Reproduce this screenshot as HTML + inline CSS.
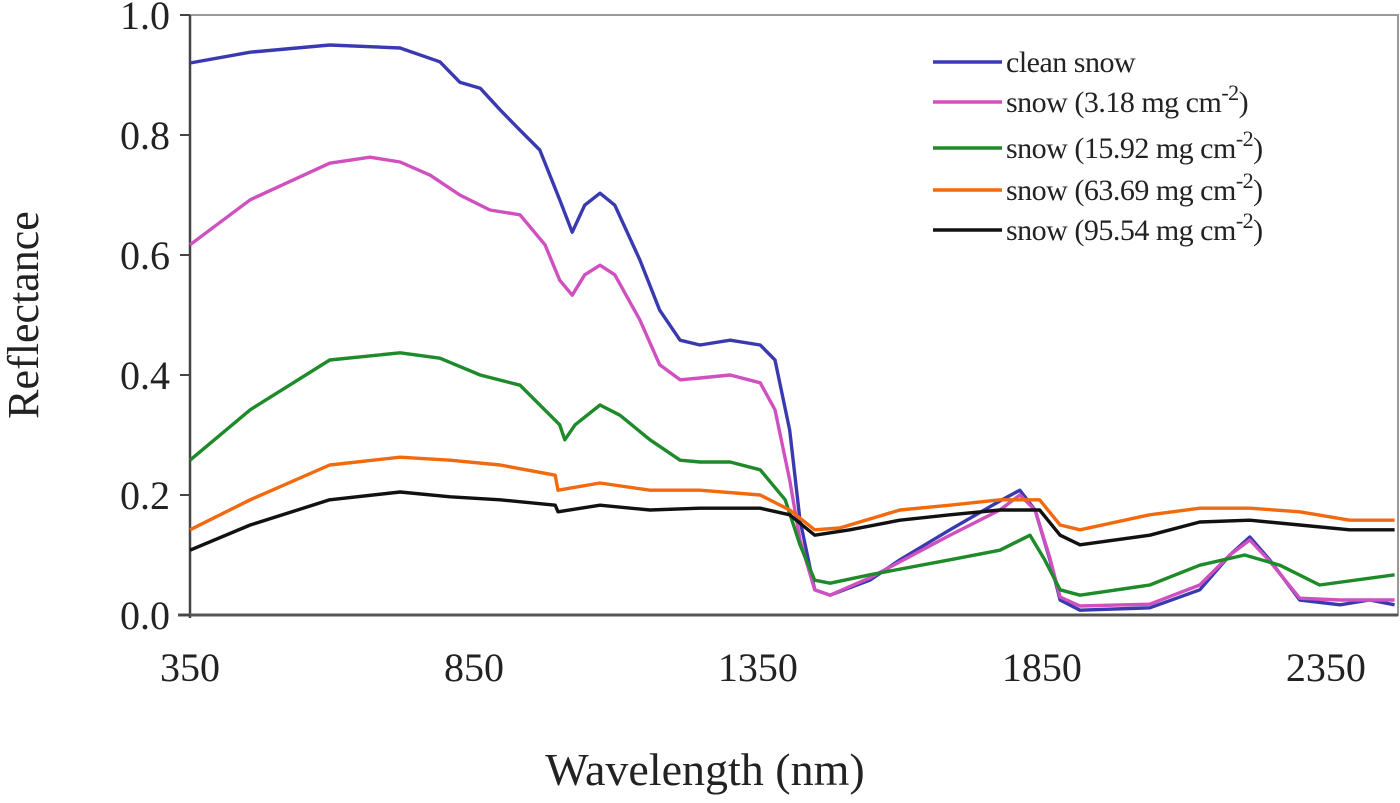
<!DOCTYPE html>
<html><head><meta charset="utf-8"><style>
body{margin:0;background:#fff;}
svg text{font-family:"Liberation Serif",serif;fill:#222;}
</style></head><body>
<svg id="c" width="1400" height="798"></svg>
<script>
const yTicks=[0,0.2,0.4,0.6,0.8,1.0];
const yTickLabels=["0.0","0.2","0.4","0.6","0.8","1.0"];
const xTicks=[350,850,1350,1850,2350];
const seriesNames=["clean snow","snow (3.18 mg cm","snow (15.92 mg cm","snow (63.69 mg cm","snow (95.54 mg cm"];
const seriesColors=["#3a3ab0","#d050c0","#1e8a2a","#f26a10","#111111"];
const blueWl=[350,456,596,720,790,825,861,896,931,966,1001,1023,1045,1072,1098,1142,1177,1213,1248,1301,1354,1380,1406,1424,1450,1477,1547,1600,1688,1776,1811,1838,1864,1882,1917,2040,2128,2181,2216,2251,2304,2375,2427,2471];
const blueR=[.92,.938,.95,.945,.922,.888,.878,.842,.808,.775,.692,.638,.683,.703,.683,.592,.508,.458,.45,.458,.45,.425,.308,.158,.042,.033,.058,.092,.142,.19,.208,.175,.092,.025,.008,.012,.042,.1,.13,.092,.025,.017,.025,.017];
const pinkWl=[350,456,596,667,720,773,825,878,931,975,1001,1023,1045,1072,1098,1142,1177,1213,1248,1301,1354,1380,1406,1424,1450,1477,1547,1688,1776,1811,1838,1864,1882,1917,2040,2128,2181,2216,2251,2304,2375,2471];
const pinkR=[.617,.692,.753,.763,.755,.733,.7,.675,.667,.617,.558,.533,.567,.583,.567,.492,.417,.392,.395,.4,.387,.342,.225,.125,.042,.033,.062,.133,.175,.2,.175,.095,.03,.015,.018,.05,.1,.125,.09,.028,.025,.025];
const greenWl=[350,456,596,720,790,861,931,984,1001,1010,1028,1072,1107,1160,1213,1248,1301,1354,1398,1424,1450,1477,1547,1688,1776,1829,1855,1882,1917,2040,2128,2207,2269,2339,2471];
const greenR=[.258,.342,.425,.437,.428,.4,.383,.333,.317,.292,.317,.35,.333,.292,.258,.255,.255,.242,.192,.117,.058,.053,.067,.092,.108,.133,.092,.042,.033,.05,.083,.1,.083,.05,.067];
const orangeWl=[350,456,596,720,808,896,993,998,1072,1160,1248,1354,1406,1450,1494,1600,1688,1776,1846,1882,1917,2040,2128,2216,2304,2392,2471];
const orangeR=[.142,.192,.25,.263,.258,.25,.233,.208,.22,.208,.208,.2,.175,.142,.145,.175,.183,.192,.192,.15,.142,.167,.178,.178,.172,.158,.158];
const blackWl=[350,456,596,720,808,896,993,998,1072,1160,1248,1354,1406,1450,1512,1600,1688,1776,1846,1882,1917,2040,2128,2216,2304,2392,2471];
const blackR=[.108,.15,.192,.205,.197,.192,.183,.172,.183,.175,.178,.178,.167,.133,.142,.158,.167,.175,.175,.133,.117,.133,.155,.158,.15,.142,.142];
const seriesWl=[blueWl,pinkWl,greenWl,orangeWl,blackWl];
const seriesR=[blueR,pinkR,greenR,orangeR,blackR];

const L=190,R=1398,T=15,B=615,X0=350,X1=2477;
const xs=v=>L+(v-X0)/(X1-X0)*(R-L);
const ys=v=>B-v*(B-T);
const svg=document.getElementById('c');
const NS='http://www.w3.org/2000/svg';
function mk(tag,attrs,parent){const e=document.createElementNS(NS,tag);for(const k in attrs)e.setAttribute(k,attrs[k]);(parent||svg).appendChild(e);return e;}

const frame=mk('rect',{x:L,y:T,width:R-L,height:B-T,fill:'none',stroke:'#999','stroke-width':2});


const ya=mk('line',{x1:L,y1:T,x2:L,y2:B+3,stroke:'#444','stroke-width':2.5});


const xa=mk('line',{x1:L-12,y1:B,x2:R,y2:B,stroke:'#555','stroke-width':3});



yTicks.forEach((v,i)=>{
  const tk=mk('line',{x1:L-10,y1:ys(v),x2:L,y2:ys(v),stroke:'#444','stroke-width':2});
  
  
  const t=mk('text',{x:L-20,y:ys(v)+14,'text-anchor':'end','font-size':40});
  t.textContent=yTickLabels[i];
  
  
});
xTicks.forEach(v=>{
  const t=mk('text',{x:xs(v),y:681,'text-anchor':'middle','font-size':40});
  t.textContent=String(v);
  
  
});
const yt=mk('text',{x:0,y:0,'text-anchor':'middle','font-size':44,transform:'translate(38,315) rotate(-90)'});
yt.textContent='Reflectance';


const xt=mk('text',{x:705,y:785,'text-anchor':'middle','font-size':46});
xt.textContent='Wavelength (nm)';



seriesWl.forEach((wl,i)=>{
  const d=wl.map((w,j)=>(j?'L':'M')+xs(w).toFixed(1)+','+ys(seriesR[i][j]).toFixed(1)).join('');
  const p=mk('path',{d:d,fill:'none',stroke:seriesColors[i],'stroke-width':3.4,'stroke-linejoin':'round'});
  
  
});

const rowsY=[62,102,148,190,230];
seriesNames.forEach((n,i)=>{
  const g=mk('g',{});
  
  
  mk('line',{x1:933,y1:rowsY[i],x2:1002,y2:rowsY[i],stroke:seriesColors[i],'stroke-width':3.5},g);
  const t=mk('text',{x:1006,y:rowsY[i]+10,'font-size':30,'letter-spacing':-0.5},g);
  t.textContent=n;
  if(i>0){
    const s=mk('tspan',{dy:-12,'font-size':22},t);s.textContent='-2';
    const c=mk('tspan',{dy:12},t);c.textContent=')';
  }
});
</script>
</body></html>
